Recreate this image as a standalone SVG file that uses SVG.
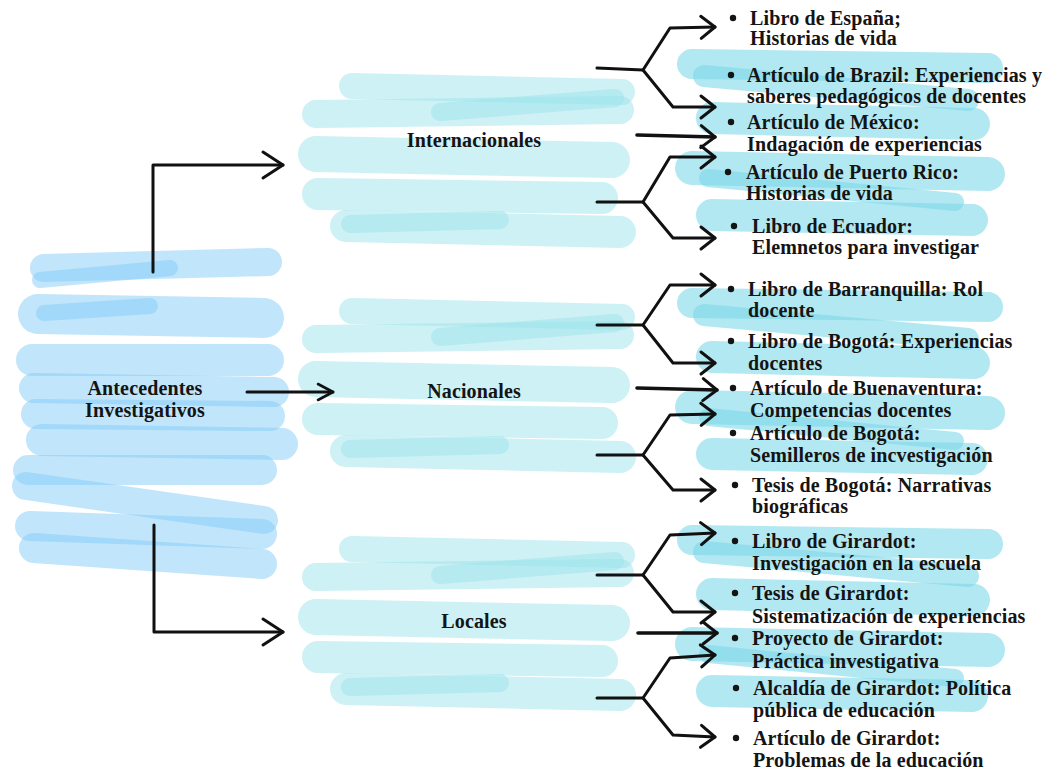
<svg xmlns="http://www.w3.org/2000/svg" xmlns:xlink="http://www.w3.org/1999/xlink" width="1046" height="773" viewBox="0 0 1046 773">
<style>
.t{font-family:"Liberation Serif","Times New Roman",serif;font-weight:bold;font-size:20px;letter-spacing:0.15px;fill:#141414}
.m{text-anchor:middle}
.hb{fill:none;stroke:#83cbf7;stroke-opacity:0.5;stroke-linecap:round}
.hc{fill:none;stroke:#9be3eb;stroke-opacity:0.5;stroke-linecap:round}
.hr{fill:none;stroke:#7ad8e9;stroke-opacity:0.58;stroke-linecap:round}
.c{fill:none;stroke:#111;stroke-width:3;stroke-linecap:round;stroke-linejoin:round}
.c4{stroke-width:3.6}
.b{fill:#141414}
</style>
<defs>
<marker id="arr" viewBox="-16 -13 20 26" refX="0" refY="0" markerWidth="20" markerHeight="26" markerUnits="userSpaceOnUse" orient="auto" overflow="visible">
<path d="M-14,-11 L0,0 L-14,11" fill="none" stroke="#111" stroke-width="3" stroke-linecap="round" stroke-linejoin="round"/>
</marker>
<marker id="arrBig" viewBox="-22 -15 24 30" refX="0" refY="0" markerWidth="24" markerHeight="30" markerUnits="userSpaceOnUse" orient="auto" overflow="visible">
<path d="M-20,-13 L0,0 L-20,13" fill="none" stroke="#111" stroke-width="3" stroke-linecap="round" stroke-linejoin="round"/>
</marker>
<marker id="arrSm" viewBox="-17 -10 20 20" refX="0" refY="0" markerWidth="20" markerHeight="20" markerUnits="userSpaceOnUse" orient="auto" overflow="visible">
<path d="M-15,-8 L0,0 L-15,8" fill="none" stroke="#111" stroke-width="2.6" stroke-linecap="round" stroke-linejoin="round"/>
</marker>
<g id="midStrokes">
<path class="hc" d="M352 86 L622 92" stroke-width="26"/>
<path class="hc" d="M316 114 L620 110" stroke-width="28"/>
<path class="hc" d="M440 112 L615 98" stroke-width="18"/>
<path class="hc" d="M316 154 L612 160" stroke-width="36"/>
<path class="hc" d="M318 194 L602 198" stroke-width="32"/>
<path class="hc" d="M346 226 L620 232" stroke-width="32"/>
<path class="hc" d="M350 224 L500 220" stroke-width="18"/>
</g>
<g id="rightHl">
<path class="hr" d="M692 64 L988 68" stroke-width="30"/>
<path class="hr" d="M704 76 L968 100" stroke-width="22"/>
<path class="hr" d="M712 118 L974 124" stroke-width="32"/>
<path class="hr" d="M692 168 L988 174" stroke-width="34"/>
<path class="hr" d="M708 178 L955 202" stroke-width="18"/>
<path class="hr" d="M712 215 L972 220" stroke-width="32"/>
</g>
</defs>
<rect width="1046" height="773" fill="#ffffff"/>

<g id="node-antecedentes">
<path class="hb" d="M44 268 L268 262" stroke-width="28"/>
<path class="hb" d="M40 280 L170 268" stroke-width="16"/>
<path class="hb" d="M38 314 L264 318" stroke-width="40"/>
<path class="hb" d="M44 313 L150 306" stroke-width="16"/>
<path class="hb" d="M32 360 L268 360" stroke-width="32"/>
<path class="hb" d="M34 388 L274 392" stroke-width="30"/>
<path class="hb" d="M36 414 L270 416" stroke-width="30"/>
<path class="hb" d="M42 440 L282 444" stroke-width="32"/>
<path class="hb" d="M28 470 L262 470" stroke-width="30"/>
<path class="hb" d="M26 486 L264 520" stroke-width="28"/>
<path class="hb" d="M30 526 L262 534" stroke-width="30"/>
<path class="hb" d="M34 548 L262 564" stroke-width="30"/>
<text class="t m" x="145" y="395">Antecedentes</text>
<text class="t m" x="145" y="417">Investigativos</text>
</g>

<g id="node-internacionales">
<use xlink:href="#midStrokes"/>
<text class="t m" x="474" y="147">Internacionales</text>
</g>
<g id="node-nacionales">
<use xlink:href="#midStrokes" transform="translate(0,225)"/>
<text class="t m" x="474" y="398">Nacionales</text>
</g>
<g id="node-locales">
<use xlink:href="#midStrokes" transform="translate(0,463)"/>
<text class="t m" x="474" y="628">Locales</text>
</g>

<g id="highlights-right">
<use xlink:href="#rightHl"/>
<use xlink:href="#rightHl" transform="translate(0,239)"/>
<use xlink:href="#rightHl" transform="translate(0,476)"/>
</g>

<g id="connectors">
<path class="c" d="M153 272 L153 165 L283 165" marker-end="url(#arrBig)"/>
<path class="c" d="M154 525 L154 632 L283 632" marker-end="url(#arrBig)"/>
<path class="c" d="M247 392 L333 392" stroke-width="2.6" marker-end="url(#arrSm)"/>

<path class="c" d="M597 68 L643 70 L670 28 L715 27" marker-end="url(#arr)"/>
<path class="c" d="M643 70 L673 107 L715 107" marker-end="url(#arr)"/>
<path class="c c4" d="M637 135 L715 137" marker-end="url(#arr)"/>
<path class="c" d="M597 202 L643 202 L670 157 L715 157" marker-end="url(#arr)"/>
<path class="c" d="M643 202 L673 238 L715 238" marker-end="url(#arr)"/>

<path class="c" d="M597 325 L643 325 L670 285 L715 285" marker-end="url(#arr)"/>
<path class="c" d="M643 325 L673 363 L715 363" marker-end="url(#arr)"/>
<path class="c c4" d="M637 388 L717 390" marker-end="url(#arr)"/>
<path class="c" d="M597 455 L643 455 L670 415 L715 414" marker-end="url(#arr)"/>
<path class="c" d="M643 455 L673 490 L715 490" marker-end="url(#arr)"/>

<path class="c" d="M597 575 L643 575 L670 535 L715 533" marker-end="url(#arr)"/>
<path class="c" d="M643 575 L673 612 L715 612" marker-end="url(#arr)"/>
<path class="c c4" d="M638 633 L717 633" marker-end="url(#arr)"/>
<path class="c" d="M597 698 L643 698 L670 658 L715 655" marker-end="url(#arr)"/>
<path class="c" d="M643 698 L673 735 L715 737" marker-end="url(#arr)"/>
</g>

<g id="item-espana"><circle class="b" cx="733" cy="18" r="3.2"/><text class="t" x="750" y="25">Libro de España;</text><text class="t" x="750" y="45">Historias de vida</text></g>
<g id="item-brazil"><circle class="b" cx="731" cy="75" r="3.2"/><text class="t" x="747" y="82">Artículo de Brazil: Experiencias y</text><text class="t" x="747" y="103">saberes pedagógicos de docentes</text></g>
<g id="item-mexico"><circle class="b" cx="731" cy="122" r="3.2"/><text class="t" x="747" y="129">Artículo de México:</text><text class="t" x="747" y="151">Indagación de experiencias</text></g>
<g id="item-puertorico"><circle class="b" cx="728" cy="172" r="3.2"/><text class="t" x="746" y="179">Artículo de Puerto Rico:</text><text class="t" x="746" y="200">Historias de vida</text></g>
<g id="item-ecuador"><circle class="b" cx="734" cy="226" r="3.2"/><text class="t" x="752" y="233">Libro de Ecuador:</text><text class="t" x="752" y="254">Elemnetos para investigar</text></g>

<g id="item-barranquilla"><circle class="b" cx="731" cy="289" r="3.2"/><text class="t" x="748" y="296">Libro de Barranquilla: Rol</text><text class="t" x="748" y="317">docente</text></g>
<g id="item-bogota1"><circle class="b" cx="731" cy="341" r="3.2"/><text class="t" x="748" y="348">Libro de Bogotá: Experiencias</text><text class="t" x="748" y="370">docentes</text></g>
<g id="item-buenaventura"><circle class="b" cx="733" cy="388" r="3.2"/><text class="t" x="750" y="395">Artículo de Buenaventura:</text><text class="t" x="750" y="417">Competencias docentes</text></g>
<g id="item-bogota2"><circle class="b" cx="733" cy="433" r="3.2"/><text class="t" x="750" y="440">Artículo de Bogotá:</text><text class="t" x="750" y="462">Semilleros de incvestigación</text></g>
<g id="item-bogota3"><circle class="b" cx="735" cy="485" r="3.2"/><text class="t" x="752" y="492">Tesis de Bogotá: Narrativas</text><text class="t" x="752" y="513">biográficas</text></g>

<g id="item-girardot1"><circle class="b" cx="735" cy="541" r="3.2"/><text class="t" x="752" y="548">Libro de Girardot:</text><text class="t" x="752" y="570">Investigación en la escuela</text></g>
<g id="item-girardot2"><circle class="b" cx="735" cy="593" r="3.2"/><text class="t" x="752" y="600">Tesis de Girardot:</text><text class="t" x="752" y="623">Sistematización de experiencias</text></g>
<g id="item-girardot3"><circle class="b" cx="735" cy="638" r="3.2"/><text class="t" x="752" y="645">Proyecto de Girardot:</text><text class="t" x="752" y="668">Práctica investigativa</text></g>
<g id="item-girardot4"><circle class="b" cx="736" cy="688" r="3.2"/><text class="t" x="753" y="695">Alcaldía de Girardot: Política</text><text class="t" x="753" y="717">pública de educación</text></g>
<g id="item-girardot5"><circle class="b" cx="736" cy="738" r="3.2"/><text class="t" x="753" y="745">Artículo de Girardot:</text><text class="t" x="753" y="767">Problemas de la educación</text></g>
</svg>
